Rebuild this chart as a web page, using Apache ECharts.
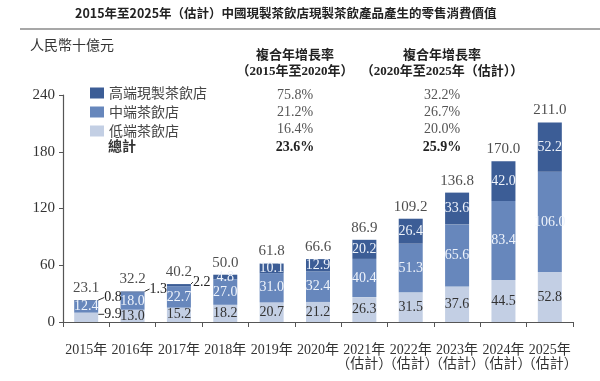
<!DOCTYPE html>
<html><head><meta charset="utf-8">
<script src="https://cdn.jsdelivr.net/npm/echarts@6/dist/echarts.min.js"></script>
<style>html,body{margin:0;padding:0;background:#fff}#c{width:600px;height:381px}</style>
</head><body><div id="c"></div>
<script>
var categories = ['2015年','2016年','2017年','2018年','2019年','2020年','2021年\n（估計）','2022年\n（估計）','2023年\n（估計）','2024年\n（估計）','2025年\n（估計）'];
var lowEnd  = [9.9, 13.0, 15.2, 18.2, 20.7, 21.2, 26.3, 31.5, 37.6, 44.5, 52.8];
var midEnd  = [12.4, 18.0, 22.7, 27.0, 31.0, 32.4, 40.4, 51.3, 65.6, 83.4, 106.0];
var highEnd = [0.8, 1.3, 2.2, 4.8, 10.1, 12.9, 20.2, 26.4, 33.6, 42.0, 52.2];
var totals  = [23.1, 32.2, 40.2, 50.0, 61.8, 66.6, 86.9, 109.2, 136.8, 170.0, 211.0];
var seriesNames = ['高端現製茶飲店','中端茶飲店','低端茶飲店'];
var yTicks = [0, 60, 120, 180, 240];
var cagrHeader1 = ['複合年增長率','（2015年至2020年）'];
var cagrHeader2 = ['複合年增長率','（2020年至2025年（估計））'];
var cagr1 = ['75.8%','21.2%','16.4%','23.6%'];
var cagr2 = ['32.2%','26.7%','20.0%','25.9%'];
var totalLabel = '總計';
var titleText = '2015年至2025年（估計）中國現製茶飲店現製茶飲產品產生的零售消費價值';
var unitText = '人民幣十億元';

var colHigh = '#3c5d96', colMid = '#6787bc', colLow = '#c3cfe4';
var serif = '"Liberation Serif","Noto Sans CJK TC",serif';
var cjk = '"Noto Sans CJK TC","Liberation Serif",sans-serif';

var outsideIdxHigh = [0,1,2];
var outsideIdxLow = [0];
var outsideDx = {0:1, 1:0, 2:-3};

function fmt(v){ return v.toFixed(1); }

var chart = echarts.init(document.getElementById('c'));

var graphics = [
  {type:'text', left: 75, top: 7, style:{text:titleText, font:'bold 12.5px '+cjk, fill:'#222'}},
  {type:'line', shape:{x1:20,y1:29,x2:600,y2:29}, style:{stroke:'#8a8a8a', lineWidth:1.5}},
  {type:'text', left: 30, top: 38, style:{text:unitText, font:'14px '+cjk, fill:'#333'}},
  {type:'text', left: 108, top: 139, style:{text:totalLabel, font:'bold 14px '+cjk, fill:'#333'}}
];
function addCol(cx, headers, vals){
  graphics.push({type:'text', x:cx, y:48, style:{text:headers[0], font:'bold 13px '+cjk, fill:'#222', align:'center'}});
  graphics.push({type:'text', x:cx, y:65, style:{text:headers[1], font:'bold 13px '+serif, fill:'#222', align:'center'}});
  var ys=[88,105,122,140];
  for (var i=0;i<vals.length;i++){
    graphics.push({type:'text', x:cx, y:ys[i], style:{text:vals[i], font:(i===3?'bold ':'')+'14px '+serif, fill:i===3?'#222':'#555', align:'center'}});
  }
}
addCol(295, cagrHeader1, cagr1);
addCol(442, cagrHeader2, cagr2);

function barSeries(name, data, color, txtColor, outside){
  return {
    name:name, type:'bar', stack:'t', barWidth:24, itemStyle:{color:color},
    data: data.map(function(v,i){
      var o = {value:v};
      if (outside.indexOf(i)>=0){
        o.label = {position:'right', distance:5, color:'#222'};
        o.labelLine = {show:true, lineStyle:{color:'#333', width:1}};
      }
      return o;
    }),
    label:{show:true, position:'inside', color:txtColor, fontFamily:serif, fontSize:14, formatter:function(p){return fmt(p.value);}},
    labelLayout: function(p){
      if (outside.indexOf(p.dataIndex)>=0){
        return {dy: -3, dx: outsideDx[p.dataIndex] || 0};
      }
      return {};
    }
  };
}

chart.setOption({
  animation:false,
  textStyle:{fontFamily:serif},
  graphic: graphics,
  legend:{
    data:seriesNames, orient:'vertical', left:85, top:81,
    itemWidth:14, itemHeight:11, itemGap:5, icon:'rect',
    textStyle:{fontFamily:cjk, fontSize:14, color:'#444', lineHeight:14}
  },
  grid:{left:63, right:27, top:95, bottom:59},
  xAxis:{
    type:'category', data:categories,
    axisLine:{lineStyle:{color:'#555', width:1.2}},
    axisTick:{show:true, length:5, lineStyle:{color:'#555'}},
    axisLabel:{color:'#333', fontSize:14, fontFamily:serif, margin:21, lineHeight:14, interval:0}
  },
  yAxis:{
    type:'value', min:0, max:240, interval:60,
    axisLine:{show:true, lineStyle:{color:'#555', width:1.2}},
    axisTick:{show:true, length:4, lineStyle:{color:'#555'}},
    splitLine:{show:false},
    axisLabel:{color:'#333', fontSize:15, fontFamily:serif, margin:8}
  },
  series:[
    barSeries(seriesNames[2], lowEnd, colLow, '#333', outsideIdxLow),
    barSeries(seriesNames[1], midEnd, colMid, '#eef3fb', []),
    barSeries(seriesNames[0], highEnd, colHigh, '#eef3fb', outsideIdxHigh),
    {
      type:'scatter', data:totals, symbolSize:1, itemStyle:{color:'rgba(0,0,0,0)'},
      label:{show:true, position:'top', distance:4, color:'#222', fontSize:15, fontFamily:serif, formatter:function(p){return fmt(p.value);}},
      silent:true, z:5
    }
  ]
});
</script></body></html>
